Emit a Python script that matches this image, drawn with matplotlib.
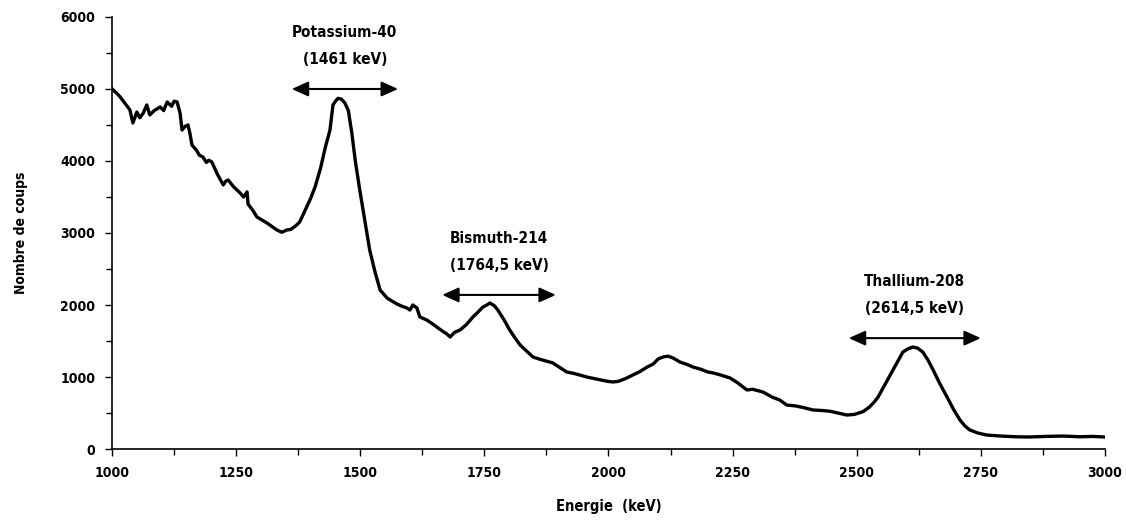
import matplotlib
matplotlib.use("Agg")
import matplotlib.pyplot as plt
from matplotlib.ticker import MultipleLocator

plt.rcParams['font.family'] = ['DejaVu Sans']
plt.rcParams['font.stretch'] = 'condensed'
plt.rcParams['font.weight'] = 'bold'
plt.rcParams['axes.labelweight'] = 'bold'

energy = [1000, 1008, 1016, 1026, 1036, 1042, 1050, 1056, 1063, 1070, 1076, 1085, 1097, 1104,
          1111, 1120, 1125, 1131, 1137, 1141, 1147, 1153, 1157, 1161, 1170, 1176, 1183, 1190,
          1195, 1201, 1212, 1224, 1229, 1234, 1245, 1258, 1265, 1272, 1274, 1283, 1292, 1302,
          1312, 1322, 1332, 1342, 1352, 1360, 1370, 1378, 1390, 1400, 1409, 1420, 1430, 1439,
          1445, 1450, 1455, 1462, 1469, 1476, 1483, 1490, 1499, 1509, 1519, 1530, 1540, 1554,
          1565, 1575, 1585, 1594, 1600, 1606, 1614, 1620, 1634, 1645, 1654, 1665, 1674, 1681,
          1690, 1701, 1714, 1727, 1737, 1747, 1755, 1761, 1770, 1777, 1790, 1801, 1812, 1822,
          1835, 1848, 1860, 1875, 1888, 1900, 1916, 1930, 1942, 1956, 1970, 1985, 1998, 2009,
          2020, 2035, 2049, 2062, 2078, 2090, 2100, 2110, 2120, 2130, 2144, 2160, 2170, 2185,
          2200, 2211, 2225, 2245, 2260, 2279, 2290, 2311, 2330, 2345, 2359, 2375, 2390, 2412,
          2430, 2446, 2462, 2480, 2495, 2513, 2525, 2535, 2543, 2553, 2565, 2575, 2581, 2593,
          2603, 2613, 2623, 2633, 2644, 2654, 2668, 2682, 2695, 2708, 2718, 2728, 2745, 2762,
          2790, 2820, 2849, 2880, 2915, 2950, 2975, 3000]
counts = [5000, 4950, 4893, 4800, 4709, 4528, 4680, 4600, 4667, 4778, 4640, 4700, 4750, 4700,
          4820, 4760, 4830, 4820, 4667, 4431, 4480, 4500, 4380, 4222, 4150, 4080, 4056, 3980,
          4010, 3986, 3820, 3667, 3720, 3736, 3640, 3556, 3500, 3570, 3400, 3320, 3222, 3180,
          3139, 3090, 3042, 3010, 3042, 3050, 3100, 3153, 3330, 3480, 3640, 3900, 4200, 4431,
          4778, 4830, 4870, 4860, 4806, 4700, 4389, 4000, 3597, 3180, 2764, 2450, 2208, 2097,
          2050, 2010, 1980, 1958, 1930, 2000, 1960, 1834, 1792, 1740, 1695, 1640, 1600, 1556,
          1620, 1653, 1730, 1834, 1900, 1972, 2000, 2028, 1990, 1931, 1790, 1653, 1540, 1445,
          1360, 1278, 1250, 1220, 1195, 1140, 1070, 1050, 1028, 1000, 980, 960, 940, 931,
          940, 980, 1028, 1070, 1139, 1180, 1250, 1278, 1290, 1264, 1208, 1170, 1139, 1110,
          1070, 1056, 1030, 986, 920, 820, 830, 792, 720, 680, 611, 600, 580, 542,
          535, 525, 500, 472, 480, 520, 580, 650, 722, 847, 1000, 1120, 1195, 1347,
          1390, 1417, 1400, 1347, 1230, 1097, 900, 722, 550, 403, 320, 264, 220, 194,
          180, 170, 167, 175, 180, 170, 175, 167]

peak_names = ["Potassium-40\n(1461 keV)", "Bismuth-214\n(1764,5 keV)", "Thallium-208\n(2614,5 keV)"]
arrow_start = [1362, 1665, 2484]
arrow_end = [1576, 1894, 2750]
arrow_level = [5000, 2140, 1540]

fig = plt.figure(figsize=(11.26, 5.29), dpi=100)
ax = fig.add_axes([0.0995, 0.1512, 0.8818, 0.8167])
ax.plot(energy, counts, color='black', linewidth=2.4)

ax.set_xlim(1000, 3000)
ax.set_ylim(0, 6000)
ax.xaxis.set_major_locator(MultipleLocator(250))
ax.xaxis.set_minor_locator(MultipleLocator(125))
ax.yaxis.set_major_locator(MultipleLocator(1000))
ax.yaxis.set_minor_locator(MultipleLocator(500))
ax.tick_params(which='major', direction='out', length=5, width=1, labelsize=10, pad=7)
ax.tick_params(which='minor', direction='out', length=4, width=1)
for s in ['top', 'right']:
    ax.spines[s].set_visible(False)
for s in ['left', 'bottom']:
    ax.spines[s].set_linewidth(1.2)

ax.set_xlabel("Energie  (keV)", fontsize=10.5, fontweight='bold', labelpad=14)
ax.set_ylabel("Nombre de coups", fontsize=10, fontweight='bold')
ax.yaxis.set_label_coords(-0.085, 0.5)

for name, x0, x1, yl in zip(peak_names, arrow_start, arrow_end, arrow_level):
    ax.annotate("", xy=(x0, yl), xytext=(x1, yl),
                arrowprops=dict(arrowstyle='<|-|>,head_length=1.0,head_width=0.45',
                                color='black', lw=1.5, shrinkA=0, shrinkB=0))
    ax.annotate(name, xy=((x0 + x1) / 2, yl), xytext=(0, 16), textcoords='offset points',
                ha='center', va='bottom', fontsize=11, fontweight='bold', linespacing=2.0)

fig.savefig("out.png", dpi=100)
